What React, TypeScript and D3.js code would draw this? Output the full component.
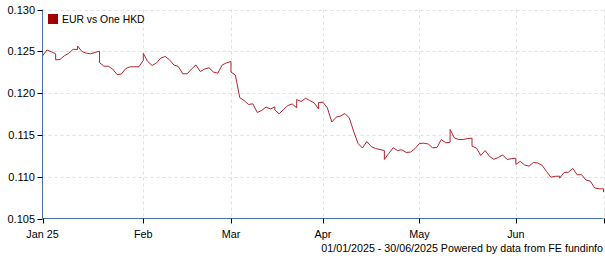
import React from "react";
import * as d3 from "d3";

// Weekday closes, 01/01/2025 .. 30/06/2025 (129 trading days), value of one HKD in EUR
const values: number[] = [
  0.12444, 0.12516, 0.12495, 0.12398, 0.12402, 0.12447, 0.12477, 0.12524, 0.12563, 0.12498,
  0.12477, 0.1247, 0.12488, 0.12366, 0.12322, 0.12322, 0.12288, 0.12222, 0.12228, 0.12294,
  0.12315, 0.12315, 0.12316, 0.12474, 0.12378, 0.1233, 0.1236, 0.1242, 0.12438, 0.12396,
  0.12336, 0.12318, 0.12231, 0.12231, 0.12288, 0.12336, 0.12258, 0.12288, 0.12303, 0.12252,
  0.12238, 0.12336, 0.12362, 0.12252, 0.12217, 0.11947, 0.11911, 0.11864, 0.11872, 0.11768,
  0.11792, 0.11834, 0.1181, 0.11798, 0.11752, 0.11804, 0.11852, 0.1187, 0.11923, 0.119,
  0.11938, 0.11911, 0.11882, 0.11888, 0.11891, 0.11822, 0.11654, 0.11712, 0.11726, 0.11756,
  0.11702, 0.11541, 0.11397, 0.11343, 0.11421, 0.11361, 0.11337, 0.11325, 0.11206, 0.11278,
  0.11346, 0.11313, 0.11322, 0.11289, 0.11295, 0.11337, 0.11397, 0.11401, 0.11391, 0.11346,
  0.11349, 0.11445, 0.11405, 0.11565, 0.11463, 0.11445, 0.11445, 0.11457, 0.11365, 0.11343,
  0.11254, 0.11313, 0.11242, 0.11208, 0.1123, 0.1126, 0.11206, 0.11215, 0.11146, 0.11184,
  0.1114, 0.11126, 0.1117, 0.11164, 0.11136, 0.11062, 0.10994, 0.11005, 0.10982, 0.1105,
  0.11054, 0.11098, 0.11023, 0.11024, 0.1096, 0.10946, 0.10865, 0.10855, 0.10815,
];

// Weekend quotes shown as a jump at the following Monday
const gapIndex: number[] = [3, 8, 13, 23, 43, 53, 58, 63, 78, 93, 98, 108, 118, 128];
const gapValue: number[] = [
  0.1247, 0.12522, 0.125, 0.1239, 0.12378, 0.11834, 0.11824, 0.1181, 0.11313, 0.11413,
  0.11461, 0.11221, 0.11006, 0.10855,
];

const xTickIndex: number[] = [0, 23, 43, 64, 86, 108, 128];
const xTickLabels: string[] = ["Jan 25", "Feb", "Mar", "Apr", "May", "Jun", ""];
const yTicks: number[] = [0.105, 0.11, 0.115, 0.12, 0.125, 0.13];

const seriesName = "EUR vs One HKD";
const footer = "01/01/2025 - 30/06/2025 Powered by data from FE fundinfo";

const W = 605;
const H = 260;
const FONT = "'Liberation Sans', Arial, sans-serif";
const AXIS = "#4572A7";
const LINE = "#b5222b";
const GRID = "#e0e0e0";

export default function App() {
  const x = d3.scaleLinear().domain([0, values.length - 1]).range([42.5, 603.5]);
  const y = d3.scaleLinear().domain([0.105, 0.13]).range([218.5, 9.5]);

  const pts: [number, number][] = [];
  values.forEach((v, i) => {
    const g = gapIndex.indexOf(i);
    if (g >= 0) pts.push([i, gapValue[g]]);
    pts.push([i, v]);
  });
  const line = d3
    .line<[number, number]>()
    .x((d) => x(d[0]))
    .y((d) => y(d[1]));

  const x0 = x(0);
  const yBottom = y(0.105);

  return (
    <svg
      width={W}
      height={H}
      style={{ position: "absolute", left: 0, top: 0, background: "#fff" }}
      fontFamily={FONT}
    >
      {yTicks.slice(1).map((t) => (
        <line
          key={"hg" + t}
          x1={x0}
          x2={x(values.length - 1)}
          y1={Math.round(y(t)) + 0.5}
          y2={Math.round(y(t)) + 0.5}
          stroke={GRID}
          strokeDasharray="3,3"
        />
      ))}
      {xTickIndex.slice(1).map((t) => (
        <line
          key={"vg" + t}
          x1={Math.round(x(t)) + 0.5}
          x2={Math.round(x(t)) + 0.5}
          y1={y(0.13)}
          y2={yBottom}
          stroke={GRID}
          strokeDasharray="3,3"
        />
      ))}

      <path d={line(pts) || ""} fill="none" stroke={LINE} strokeWidth={1} />

      <line x1={x0} x2={x0} y1={y(0.13)} y2={yBottom} stroke={AXIS} />
      <line x1={x0} x2={x(values.length - 1)} y1={yBottom} y2={yBottom} stroke={AXIS} />
      {yTicks.map((t) => (
        <g key={"yt" + t}>
          <line
            x1={x0 - 5}
            x2={x0}
            y1={Math.round(y(t)) + 0.5}
            y2={Math.round(y(t)) + 0.5}
            stroke="#000"
          />
          <text x={35} y={y(t) + 4} textAnchor="end" fontSize={11} fill="#000">
            {d3.format(".3f")(t)}
          </text>
        </g>
      ))}
      {xTickIndex.map((t, i) => (
        <g key={"xt" + t}>
          <line
            x1={Math.round(x(t)) + 0.5}
            x2={Math.round(x(t)) + 0.5}
            y1={yBottom}
            y2={yBottom + 5}
            stroke="#000"
          />
          <text x={x(t)} y={237.5} textAnchor="middle" fontSize={10.8} fill="#000">
            {xTickLabels[i]}
          </text>
        </g>
      ))}

      <rect x={48} y={14} width={10} height={10} fill="#a00000" />
      <text x={62} y={23} fontSize={10.4} fill="#000">
        {seriesName}
      </text>

      <text x={603} y={252} textAnchor="end" fontSize={10.7} fill="#000">
        {footer}
      </text>
    </svg>
  );
}
